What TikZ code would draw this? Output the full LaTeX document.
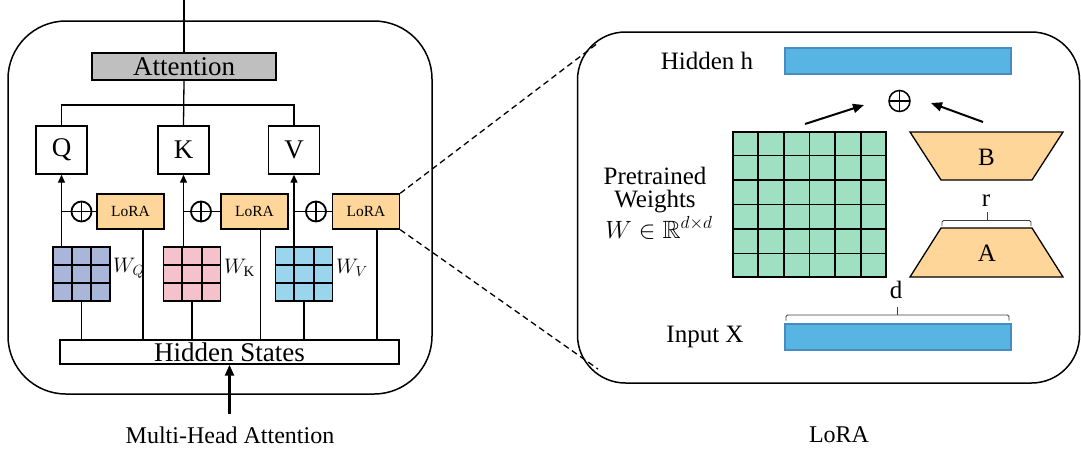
\RequirePackage{fix-cm}
\documentclass[tikz,border=0pt]{standalone}
\usepackage{amssymb}
\usepackage{fontspec}
\setmainfont{Liberation Serif}
\usetikzlibrary{arrows.meta,calc}
\definecolor{attgray}{RGB}{191,191,191}
\definecolor{loraor}{RGB}{255,214,153}
\definecolor{wqcol}{RGB}{170,181,218}
\definecolor{wkcol}{RGB}{245,194,204}
\definecolor{wvcol}{RGB}{155,212,237}
\definecolor{wgreen}{RGB}{160,224,194}
\definecolor{barblue}{RGB}{87,180,227}
\definecolor{barline}{RGB}{70,140,190}
\newcommand\myfbig{\fontsize{27}{30}\selectfont}
\newcommand\myfmid{\fontsize{25}{26.5}\selectfont}
\newcommand\myfcap{\fontsize{24}{27}\selectfont}
\newcommand\myfsm{\fontsize{15.5}{17}\selectfont}
\newcommand\myfw{\fontsize{21}{23}\selectfont}
\begin{document}
\begin{tikzpicture}[x=1pt,y=-1pt,
  box/.style={draw, line width=1.4pt, inner sep=0pt},
  qkv/.style={box, fill=white, minimum width=51, minimum height=48, font=\myfbig},
  lorabox/.style={box, fill=loraor, minimum width=67, minimum height=35, font=\myfsm},
  wgrid/.style={draw, line width=1.8pt, inner sep=0pt, minimum width=57, minimum height=54},
  opl/.style={circle, draw, line width=1.8pt, minimum size=20, inner sep=0pt,
     path picture={\draw[line width=1.8pt] (path picture bounding box.north) -- (path picture bounding box.south)
       (path picture bounding box.west) -- (path picture bounding box.east);}},
  oplr/.style={circle, draw, line width=1.5pt, minimum size=21, inner sep=0pt,
     path picture={\draw[line width=1.5pt] (path picture bounding box.north) -- (path picture bounding box.south)
       (path picture bounding box.west) -- (path picture bounding box.east);}},
  conn/.style={line width=1.3pt},
  upar/.style={conn, -{Triangle[length=8,width=7]}},
  bigar/.style={line width=2.4pt, -{Triangle[length=11,width=9]}},
  diar/.style={line width=2pt, -{Triangle[length=11,width=9]}},
  dsh/.style={line width=1.3pt, dash pattern=on 6pt off 4pt},
  bar/.style={draw=barline, line width=1.2pt, fill=barblue, minimum width=226, minimum height=26, inner sep=0pt},
  trap/.style={draw, line width=1.3pt, fill=loraor},
  brk/.style={line width=0.9pt, draw=black!75, rounded corners=1.5},
  lab/.style={font=\myfmid, inner sep=0pt}
]
\useasboundingbox (0,0) rectangle (1081,448);

% ---------- left panel ----------
\node[draw, line width=1.5pt, rounded corners=58, minimum width=424, minimum height=373, inner sep=0pt] (lbox) at (220,207.5) {};
\node[box, fill=attgray, minimum width=184, minimum height=27, font=\myfbig] (att) at (184,66.5) {Attention};
\coordinate (topend) at (184,0);
\draw[conn] (att.north) -- (topend);

\node[qkv] (q) at (61.5,150) {Q};
\node[qkv] (k) at (183.5,150) {K};
\node[qkv] (v) at (294,150) {V};

\coordinate (split) at (184,105);
\draw[conn] (att.south) -- (k.north);
\draw[conn] (q.north) -- (q.north |- split) -- (v.north |- split) -- (v.north);

\node[lorabox] (lq) at (130.5,211.5) {LoRA};
\node[lorabox] (lk) at (254.5,211.5) {LoRA};
\node[lorabox] (lv) at (366,211.5) {LoRA};

\node[opl] (oq) at (81.5,211.5) {};
\node[opl] (ok) at (201,211.5) {};
\node[opl] (ov) at (316,211.5) {};

\node[wgrid, fill=wqcol] (wq) at (81.5,274) {};
\node[wgrid, fill=wkcol] (wk) at (192,274) {};
\node[wgrid, fill=wvcol] (wv) at (304,274) {};
\foreach \g in {wq,wk,wv}{
  \foreach \i in {1,2}{
    \draw[line width=1.8pt] ($(\g.north west)!\i/3!(\g.north east)$) -- ($(\g.south west)!\i/3!(\g.south east)$);
    \draw[line width=1.8pt] ($(\g.north west)!\i/3!(\g.south west)$) -- ($(\g.north east)!\i/3!(\g.south east)$);
  }
}
\node[font=\myfw, anchor=west, inner sep=0pt] (lwq) at (113,268) {$W_Q$};
\node[font=\myfw, anchor=west, inner sep=0pt] (lwk) at (224,268) {$W_{\mathrm{K}}$};
\node[font=\myfw, anchor=west, inner sep=0pt] (lwv) at (336,268) {$W_V$};

\node[box, fill=white, minimum width=339, minimum height=24, font=\myfbig] (hs) at (229.5,352) {Hidden States};

% vertical arrows into Q K V
\draw[upar] (q.south |- wq.north) -- (q.south);
\draw[upar] (k.south |- wk.north) -- (k.south);
\draw[upar] (v.south |- wv.north) -- (v.south);
% oplus connections
\draw[conn] (q.south |- oq) -- (oq.west);
\draw[conn] (oq.east) -- (lq.west);
\draw[conn] (k.south |- ok) -- (ok.west);
\draw[conn] (ok.east) -- (lk.west);
\draw[conn] (v.south |- ov) -- (ov.west);
\draw[conn] (ov.east) -- (lv.west);
% from hidden states
\draw[conn] (wq.south) -- (wq.south |- hs.north);
\draw[conn] (wk.south) -- (wk.south |- hs.north);
\draw[conn] (wv.south) -- (wv.south |- hs.north);
\draw[conn] ([xshift=12.5pt]lq.south) -- ([xshift=12.5pt]lq.south |- hs.north);
\draw[conn] ([xshift=6pt]lk.south) -- ([xshift=6pt]lk.south |- hs.north);
\draw[conn] ([xshift=11pt]lv.south) -- ([xshift=11pt]lv.south |- hs.north);

\coordinate (inbot) at (229.5,414);
\draw[bigar] (inbot) -- (hs.south);

\node[font=\myfcap, inner sep=0pt] (cap1) at (230,435) {Multi-Head Attention};

% ---------- right panel ----------
\node[draw, line width=1.5pt, rounded corners=48, minimum width=502, minimum height=351, inner sep=0pt] (rbox) at (828.5,207.5) {};
\coordinate (rtl) at (598,43);
\coordinate (rbl) at (598,369);
\draw[dsh] (lv.north east) -- (rtl);
\draw[dsh] (lv.south east) -- (rbl);

\node[bar] (hh) at (898,61) {};
\node[lab] (hhl) at (707,61) {Hidden h};
\node[bar] (ix) at (898,337) {};
\node[lab] (ixl) at (705,337) {Input X};

\node[oplr] (opr) at (899.5,101) {};

\node[draw, line width=1.6pt, fill=wgreen, minimum width=153, minimum height=145, inner sep=0pt] (gw) at (809.5,204.5) {};
\foreach \i in {1,...,5}{
  \draw[line width=1.6pt] ($(gw.north west)!\i/6!(gw.north east)$) -- ($(gw.south west)!\i/6!(gw.south east)$);
  \draw[line width=1.6pt] ($(gw.north west)!\i/6!(gw.south west)$) -- ($(gw.north east)!\i/6!(gw.south east)$);
}
\node[lab, anchor=base, text depth=0pt] (pw1) at (655,184) {Pretrained};
\node[lab, anchor=base, text depth=0pt] (pw2) at (655,207) {Weights};
\node[lab, anchor=base] (pw3) at (659,238) {$W\in\mathbb{R}^{d\times d}$};

\draw[trap] (910,132) -- (1063,132) -- (1032,180) -- (941,180) -- cycle;
\node[lab] (bl) at (986.5,157) {B};
\draw[trap] (941,228) -- (1032,228) -- (1063,277) -- (910,277) -- cycle;
\node[lab] (al) at (987,253) {A};

\coordinate (a1s) at (805,124);
\coordinate (a1e) at (864,105);
\coordinate (a2s) at (983,122);
\coordinate (a2e) at (931,103);
\draw[diar] (a1s) -- (a1e);
\draw[diar] (a2s) -- (a2e);

\node[lab] (rl) at (986,201) {r};
\draw[brk] (942,226) -- (942,220.5) -- (1031,220.5) -- (1031,226);
\draw[brk] (987,220.5) -- (987,212);
\node[lab] (dl) at (896,290) {d};
\draw[brk] (786,320.5) -- (786,315) -- (1009,315) -- (1009,320.5);
\draw[brk] (897,315) -- (897,307);

\node[font=\myfcap, inner sep=0pt] (cap2) at (839,435) {LoRA};
\end{tikzpicture}
\end{document}
